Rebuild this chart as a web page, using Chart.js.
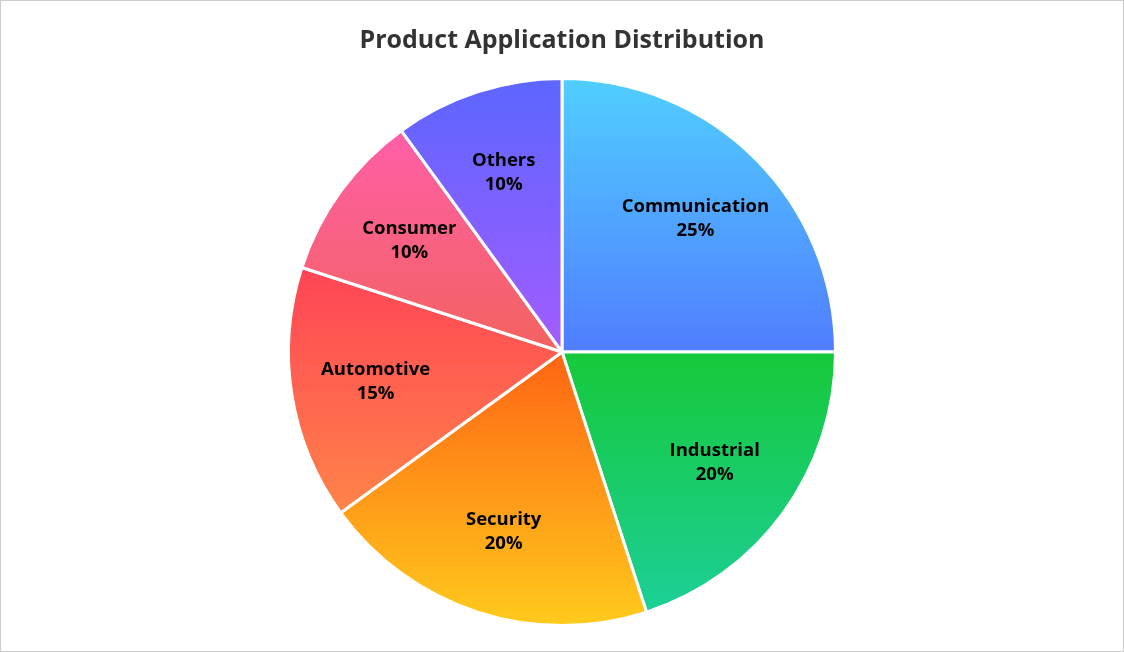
<html>
<head>
<style>
  body { margin: 0; background: #fff; }
  #wrap { width: 1124px; height: 652px; position: relative; }
</style>
</head>
<body>
<div id="wrap"><canvas id="myChart"></canvas></div>
<script src="https://cdn.jsdelivr.net/npm/chart.js@4/dist/chart.umd.min.js"></script>
<script>
// data
var labels = ['Communication', 'Industrial', 'Security', 'Automotive', 'Consumer', 'Others'];
var shares = [25, 20, 20, 15, 10, 10];
// gradient colours, top -> bottom of each slice
var topColors = ['#50cfff', '#16c93a', '#ff6414', '#ff4456', '#ff5fa8', '#5c66ff'];
var bottomColors = ['#507dff', '#1ccf98', '#ffcb1c', '#ff8448', '#f3625e', '#a35cff'];

var total = shares.reduce(function(a, b) { return a + b; }, 0);

function sliceGradient(c) {
  var chart = c.chart;
  var area = chart.chartArea;
  var i = c.dataIndex;
  if (!area) return topColors[i];
  var cx = (area.left + area.right) / 2;
  var cy = (area.top + area.bottom) / 2;
  var r = Math.min(area.right - area.left, area.bottom - area.top) / 2;
  var before = 0;
  for (var k = 0; k < i; k++) before += shares[k];
  var a0 = before / total * 360;
  var a1 = (before + shares[i]) / total * 360;
  var ys = [cy, cy - r * Math.cos(a0 * Math.PI / 180), cy - r * Math.cos(a1 * Math.PI / 180)];
  if (a0 <= 0) ys.push(cy - r);
  if (a0 <= 180 && a1 >= 180) ys.push(cy + r);
  var y0 = Math.min.apply(null, ys), y1 = Math.max.apply(null, ys);
  var g = chart.ctx.createLinearGradient(0, y0, 0, y1);
  g.addColorStop(0, topColors[i]);
  g.addColorStop(1, bottomColors[i]);
  return g;
}

var sliceLabels = {
  id: 'sliceLabels',
  afterDatasetsDraw: function(chart) {
    var ctx = chart.ctx;
    var meta = chart.getDatasetMeta(0);
    ctx.save();
    ctx.font = 'bold 18.5px "Open Sans", sans-serif';
    ctx.fillStyle = '#000';
    ctx.textAlign = 'center';
    ctx.textBaseline = 'middle';
    meta.data.forEach(function(arc, i) {
      var p = arc.getProps(['x', 'y', 'startAngle', 'endAngle', 'outerRadius'], true);
      var mid = (p.startAngle + p.endAngle) / 2;
      var rr = p.outerRadius * 0.69;
      var x = p.x + Math.cos(mid) * rr;
      var y = p.y + Math.sin(mid) * rr;
      ctx.fillText(labels[i], x, y - 12);
      ctx.fillText(shares[i] + '%', x, y + 12);
    });
    ctx.restore();
  }
};

var frame = {
  id: 'frame',
  afterDraw: function(chart) {
    var ctx = chart.ctx;
    ctx.save();
    ctx.strokeStyle = '#cccccc';
    ctx.lineWidth = 1;
    ctx.strokeRect(0.5, 0.5, chart.width - 1, chart.height - 1);
    ctx.restore();
  }
};

var chart = new Chart(document.getElementById('myChart'), {
  type: 'pie',
  data: {
    labels: labels,
    datasets: [{
      data: shares,
      backgroundColor: sliceGradient,
      borderColor: '#ffffff',
      borderWidth: 3
    }]
  },
  options: {
    responsive: true,
    maintainAspectRatio: false,
    animation: false,
    layout: { padding: { top: 26, bottom: 25 } },
    plugins: {
      legend: { display: false },
      tooltip: { enabled: false },
      title: {
        display: true,
        text: 'Product Application Distribution',
        color: '#333333',
        font: { family: '"Open Sans", sans-serif', size: 25, weight: 'bold' },
        padding: { top: 0, bottom: 21 }
      }
    }
  },
  plugins: [sliceLabels, frame]
});
</script>
</body>
</html>
